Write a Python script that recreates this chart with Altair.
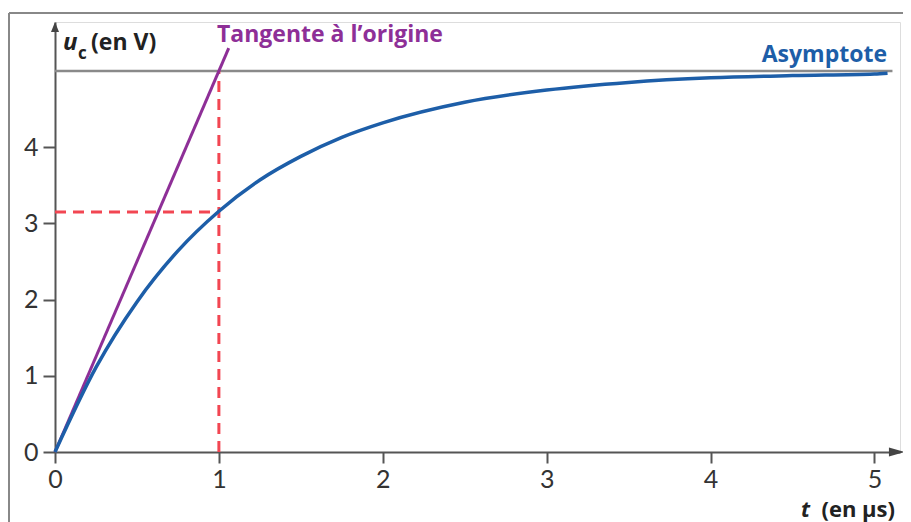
import altair as alt
import pandas as pd

# ---- data ----
t_curve = [0, 0.25, 0.5, 0.75, 1.0, 1.25, 1.5, 1.75, 2.0, 2.5, 3.0, 3.5, 4.0, 4.5, 5.0, 5.08]
u_curve = [0, 1.11, 1.97, 2.64, 3.16, 3.57, 3.88, 4.13, 4.32, 4.59, 4.75, 4.85, 4.91, 4.94, 4.96, 4.97]

t_tangent = [0, 1.06]
u_tangent = [0, 5.3]

t_asym = [0, 5.11]
u_asym = [5, 5]

t_vdash = [1, 1]
u_vdash = [0, 5]
t_hdash = [0, 1]
u_hdash = [3.15, 3.15]

x_ticks = [0, 1, 2, 3, 4, 5]
y_ticks = [0, 1, 2, 3, 4]

x_max = 5.156
y_max = 5.643
x_arrow = 5.186

FONT = "Lato"
TFONT = "Open Sans"

xscale = alt.Scale(domain=[0, x_max], nice=False, zero=False)
yscale = alt.Scale(domain=[0, y_max], nice=False, zero=False)

common_axis = dict(
    title=None, grid=False, domainColor="#555", domainWidth=2,
    tickColor="#555", tickWidth=2, labelFont=FONT, labelFontSize=25,
    labelColor="#333", labelFlush=False, labelOverlap=False,
)
xaxis = alt.Axis(values=x_ticks, tickSize=11, labelPadding=4, **common_axis)
yaxis = alt.Axis(values=y_ticks, tickSize=12, labelPadding=5, **common_axis)


def X():
    return alt.X("t:Q", scale=xscale, axis=xaxis)


def Y():
    return alt.Y("u:Q", scale=yscale, axis=yaxis)


def df(t, u):
    return pd.DataFrame({"t": t, "u": u})


curve = alt.Chart(df(t_curve, u_curve)).mark_line(
    color="#1d5ea8", strokeWidth=3.5, interpolate="monotone", clip=False
).encode(x=X(), y=Y(), order="t:Q")

tangent = alt.Chart(df(t_tangent, u_tangent)).mark_line(
    color="#8e2f97", strokeWidth=3, clip=False
).encode(x=X(), y=Y())

asym = alt.Chart(df(t_asym, u_asym)).mark_line(
    color="#8a8a8a", strokeWidth=2.5, clip=False
).encode(x=X(), y=Y())

vdash = alt.Chart(df(t_vdash, u_vdash)).mark_line(
    color="#f24652", strokeWidth=3, strokeDash=[11, 7]
).encode(x=X(), y=Y())

hdash = alt.Chart(df(t_hdash, u_hdash)).mark_line(
    color="#f24652", strokeWidth=3, strokeDash=[11, 7]
).encode(x=X(), y=Y())

# axis arrowheads
yarrow = alt.Chart(df([0], [y_max])).mark_point(
    shape="M 0 0 L -0.8 2 L 0.8 2 Z", size=100, filled=True, opacity=1,
    color="#444", clip=False
).encode(x=X(), y=Y())
xarrow = alt.Chart(df([x_arrow], [0])).mark_point(
    shape="M 0 0 L -2 -0.56 L -2 0.56 Z", size=256, filled=True, opacity=1,
    color="#444", clip=False
).encode(x=X(), y=Y())

# frame
blank = alt.Data(values=[{}])
frame_left = alt.Chart(blank).mark_rule(color="#888", strokeWidth=2).encode(
    x=alt.value(-46), y=alt.value(-9), y2=alt.value(520)
)
frame_top = alt.Chart(blank).mark_rule(color="#888", strokeWidth=2).encode(
    x=alt.value(-46), x2=alt.value(880), y=alt.value(-9)
)


def label(text, x, y, size, color, align="left", style="normal", weight="bold", font=TFONT):
    return alt.Chart(blank).mark_text(
        text=text, font=font, fontSize=size, fontWeight=weight, fontStyle=style,
        color=color, align=align, baseline="alphabetic"
    ).encode(x=alt.value(x), y=alt.value(y))


texts = [
    label("u", 8, 28, 24, "#222", style="italic"),
    label("c", 23, 37, 17, "#222"),
    label("(en V)", 36, 28, 23, "#222"),
    label("Tangente à l\u2019origine", 162, 20, 23, "#8e2f97"),
    label("Asymptote", 832, 40, 23, "#1d5ea8", align="right"),
    label("(en µs)", 840, 495, 22, "#222", align="right"),
    label("t", 755, 495, 22, "#222", align="right", style="italic"),
]

chart = alt.layer(
    frame_left, frame_top, asym, hdash, vdash, tangent, curve, yarrow, xarrow, *texts
).properties(
    width=845, height=430,
    autosize=alt.AutoSizeParams(type="none"),
    padding={"left": 47, "top": 14, "right": 3, "bottom": 70},
).configure_view(stroke=None).configure(background="white")

chart.save("out.html", embed_options={"renderer": "svg", "actions": False})
